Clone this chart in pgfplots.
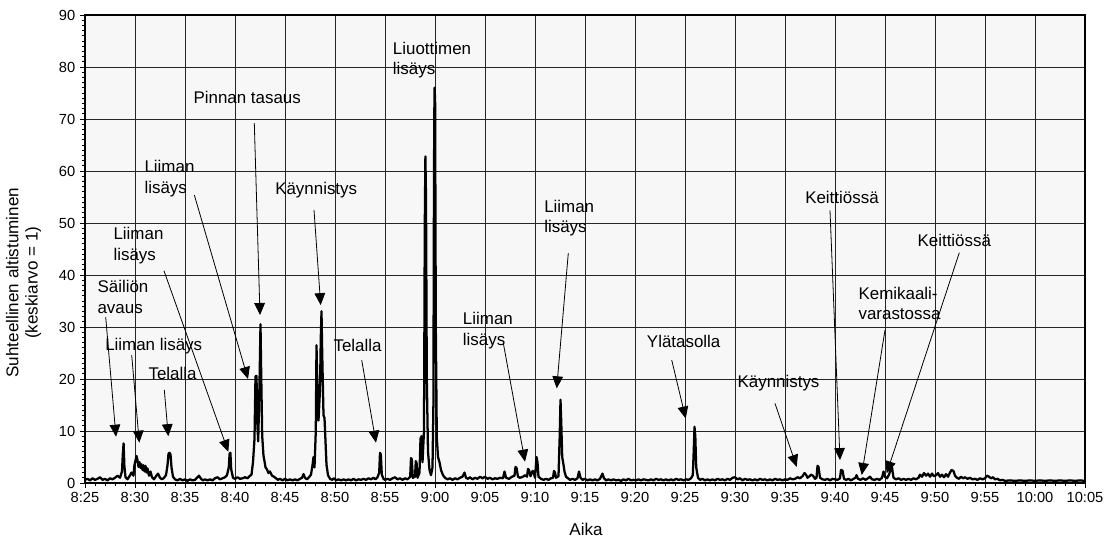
\documentclass[border=0pt]{standalone}
\usepackage{fontspec}
\setmainfont{Liberation Sans}
\usepackage{pgfplots}
\pgfplotsset{compat=1.18}
\usetikzlibrary{arrows.meta}

\newcommand\annfont{\fontsize{12.7}{15.4}\selectfont}
\newcommand\tickfont{\fontsize{11}{13}\selectfont}
\newcommand\labfont{\fontsize{12.8}{14.5}\selectfont}

\begin{document}
\begin{tikzpicture}
  \tikzset{
    ann/.style={font=\annfont, align=left, inner sep=0pt, anchor=west},
    arr/.style={-{Triangle[length=9pt,width=8pt]}, line width=0.6pt, black},
  }
  \begin{axis}[
      scale only axis,
      width=750pt, height=351pt,
      xmin=0, xmax=100, ymin=0, ymax=90,
      clip=false,
      axis background/.style={fill=black!3},
      axis line style={black, line width=0.8pt},
      xtick={0,5,...,100},
      xticklabels={8:25,8:30,8:35,8:40,8:45,8:50,8:55,9:00,9:05,9:10,9:15,9:20,9:25,9:30,9:35,9:40,9:45,9:50,9:55,10:00,10:05},
      minor x tick num=4,
      ytick={0,10,...,90},
      minor y tick num=9,
      tick align=outside, tick pos=left,
      major tick length=3.8pt, minor tick length=2.6pt,
      tick style={black, line width=0.6pt},
      grid=major,
      major grid style={black!85, line width=0.6pt},
      ticklabel style={font=\tickfont},
      /pgf/number format/assume math mode=true,
      xlabel={Aika},
      ylabel={Suhteellinen altistuminen\\(keskiarvo = 1)},
      xlabel style={font=\labfont, at={(axis description cs:0.501,-0.1)}, anchor=center},
      ylabel style={font=\labfont, align=center, at={(axis description cs:-0.0615,0.428)}, anchor=center},
    ]
    % measured series, minutes after 8:25
    \addplot[black, line width=1.7pt, line join=round] coordinates {
      (0,0.6)(0.25,0.8)(0.5,0.5)(0.75,0.9)(1,0.6)(1.25,0.8)(1.5,1.1)(1.75,0.6)(2,0.8)(2.25,0.5)(2.5,0.9)(2.75,0.7)
      (3,1.0)(3.25,1.4)(3.5,1.0)(3.7,2.2)(3.78,5.5)(3.86,7.6)(3.94,3.2)(4.05,1.1)(4.25,0.7)(4.45,1.3)(4.65,2.0)(4.85,1.4)
      (4.95,3.5)(5.05,4.3)(5.15,5.2)(5.25,4.4)(5.35,3.1)(5.45,4.0)(5.55,2.9)(5.65,3.6)(5.75,2.5)(5.85,3.4)(5.95,2.2)(6.05,3.3)
      (6.15,2.0)(6.25,2.8)(6.4,1.4)(6.55,2.2)(6.7,1.1)(6.9,0.7)(7.1,1.3)(7.3,1.8)(7.5,1.0)(7.7,0.7)(7.9,1.0)(8.1,1.5)
      (8.25,3.4)(8.35,5.6)(8.45,5.8)(8.55,5.5)(8.65,3.0)(8.8,1.2)(9,0.7)(9.25,0.5)(9.5,0.8)(9.75,0.5)(10,0.7)(10.25,0.4)
      (10.5,0.7)(10.75,0.5)(11,0.6)(11.2,1.0)(11.4,1.4)(11.6,0.8)(11.8,0.5)(12,0.7)(12.25,0.5)(12.5,0.7)(12.75,0.5)(13,0.9)
      (13.25,1.1)(13.5,0.7)(13.75,0.9)(14,1.1)(14.2,1.5)(14.38,3.0)(14.46,5.6)(14.54,5.8)(14.62,2.6)(14.8,1.0)(15,0.8)
      (15.25,1.1)(15.5,0.8)(15.75,0.9)(16,1.1)(16.25,0.9)(16.45,1.3)(16.65,1.6)(16.8,4.0)(16.95,8.5)(17.05,20.5)(17.15,20.6)
      (17.22,12)(17.32,8)(17.45,19)(17.55,30.5)(17.62,21)(17.72,9)(17.85,5.2)(17.95,4.2)(18.05,3.0)(18.2,2.6)(18.35,1.9)
      (18.5,2.2)(18.7,1.4)(18.9,1.2)(19.1,0.9)(19.3,0.6)(19.5,0.8)(19.75,0.5)(20,0.8)(20.25,0.5)(20.5,0.7)(20.75,0.5)
      (21,0.7)(21.25,0.5)(21.5,0.8)(21.7,1.0)(21.85,1.7)(22,1.0)(22.2,0.7)(22.4,1.1)(22.6,1.6)(22.75,3.4)(22.85,5.0)
      (22.95,3.0)(23.08,10)(23.15,26.5)(23.22,20)(23.35,12)(23.5,18)(23.58,28)(23.65,33)(23.72,25)(23.85,13)(23.95,12.5)
      (24.05,8)(24.15,3.5)(24.3,1.5)(24.5,0.8)(24.7,0.6)(24.9,0.9)(25.1,0.5)(25.35,0.7)(25.6,0.5)(25.85,0.7)(26.1,0.5)
      (26.35,0.7)(26.6,0.5)(26.85,0.8)(27.1,0.5)(27.35,0.7)(27.6,0.6)(27.85,0.8)(28.1,0.6)(28.35,0.9)(28.6,0.7)(28.85,1.0)
      (29.05,0.7)(29.25,1.1)(29.42,2.0)(29.5,5.8)(29.58,5.5)(29.68,1.6)(29.85,0.8)(30,0.6)(30.25,0.8)(30.5,0.6)(30.75,0.9)
      (31,1.1)(31.25,0.7)(31.5,0.9)(31.75,0.6)(32,0.9)(32.25,0.7)(32.52,1.2)(32.6,4.8)(32.68,4.5)(32.78,1.0)(33.0,1.2)
      (33.08,4.2)(33.16,3.8)(33.26,1.0)(33.45,2.0)(33.55,8.5)(33.65,9)(33.75,4.0)(33.9,10)(33.98,50)(34.04,62.8)(34.1,55)
      (34.18,20)(34.3,6)(34.45,2.5)(34.6,1.5)(34.75,3.0)(34.84,15)(34.9,60)(34.95,76)(35.01,74)(35.08,30)(35.18,8.7)
      (35.3,5)(35.45,4.0)(35.6,2.5)(35.8,1.5)(36,1.0)(36.25,0.7)(36.5,0.9)(36.75,0.6)(37,0.9)(37.25,0.7)(37.5,1.0)
      (37.75,1.2)(37.95,2.0)(38.1,1.0)(38.3,0.8)(38.5,1.1)(38.75,0.7)(39,1.0)(39.25,0.8)(39.5,1.2)(39.75,0.9)(40,1.2)
      (40.25,0.8)(40.5,1.0)(40.75,0.7)(41,0.9)(41.25,0.8)(41.5,1.0)(41.8,0.9)(41.95,2.2)(42.1,1.0)(42.4,0.8)(42.7,1.2)
      (42.95,1.4)(43.05,3.1)(43.15,2.9)(43.3,1.2)(43.5,1.0)(43.8,1.2)(44.0,1.5)(44.2,1.2)(44.3,2.7)(44.4,2.5)(44.55,1.3)
      (44.75,2.3)(44.85,2.2)(45.0,1.0)(45.15,5.0)(45.25,4.0)(45.35,1.2)(45.6,0.8)(45.85,0.6)(46.1,0.8)(46.35,0.6)(46.6,0.9)
      (46.8,1.0)(46.9,2.3)(47.0,2.0)(47.1,1.0)(47.35,1.3)(47.47,9)(47.55,16)(47.62,12)(47.72,5)(47.85,3.5)(47.95,2.2)
      (48.1,1.2)(48.3,0.9)(48.5,0.6)(48.75,0.8)(49,0.6)(49.25,0.9)(49.4,2.2)(49.55,1.0)(49.75,0.6)(50,0.8)(50.25,0.5)
      (50.5,0.7)(50.75,0.5)(51,0.7)(51.25,0.5)(51.5,0.8)(51.75,1.8)(51.9,0.9)(52.1,0.5)(52.35,0.7)(52.6,0.5)(52.85,0.7)
      (53.1,0.5)(53.35,0.6)(53.6,0.4)(53.85,0.7)(54.1,0.5)(54.35,0.8)(54.6,0.5)(54.85,0.6)(55.1,0.5)(55.35,0.7)(55.6,0.5)
      (55.85,0.7)(56.1,0.6)(56.35,0.5)(56.6,0.7)(56.85,0.5)(57.1,0.8)(57.35,0.6)(57.6,0.7)(57.85,0.5)(58.1,0.7)(58.35,0.5)
      (58.6,0.7)(58.85,0.5)(59.1,0.8)(59.35,0.6)(59.6,0.7)(59.85,0.5)(60.1,0.7)(60.35,0.6)(60.6,0.9)(60.78,1.5)(60.87,6)
      (60.95,10.8)(61.03,9)(61.12,3)(61.3,1.0)(61.5,0.6)(61.75,0.8)(62,0.5)(62.25,0.7)(62.5,0.5)(62.75,0.7)(63,0.5)
      (63.25,0.8)(63.5,0.6)(63.75,0.7)(64,0.5)(64.25,0.8)(64.5,0.6)(64.75,1.0)(65,1.1)(65.25,0.7)(65.5,0.9)(65.75,0.5)
      (66,0.8)(66.25,0.6)(66.5,0.7)(66.75,0.5)(67,0.7)(67.25,0.5)(67.5,0.8)(67.75,0.6)(68,0.7)(68.25,0.5)(68.5,0.7)
      (68.75,0.5)(69,0.8)(69.25,0.6)(69.5,0.7)(69.75,0.5)(70,0.7)(70.25,0.6)(70.5,0.9)(70.75,0.7)(71,0.8)(71.25,1.1)
      (71.5,0.9)(71.75,1.3)(71.95,1.9)(72.1,1.6)(72.25,1.0)(72.45,1.3)(72.6,1.6)(72.8,1.4)(73.0,0.8)(73.15,1.0)(73.25,3.3)
      (73.35,3.1)(73.5,1.0)(73.75,0.7)(74,0.6)(74.25,0.8)(74.5,0.5)(74.75,0.8)(75,0.7)(75.25,0.6)(75.5,0.9)(75.6,2.5)
      (75.75,2.4)(75.9,0.8)(76.1,0.6)(76.35,0.8)(76.6,0.5)(76.85,0.8)(77.05,1.0)(77.15,1.5)(77.3,0.8)(77.55,0.6)(77.8,0.9)
      (78.05,0.6)(78.3,0.9)(78.5,1.2)(78.7,0.7)(78.95,0.6)(79.2,0.8)(79.45,0.6)(79.7,1.0)(79.85,2.2)(80.0,1.2)(80.2,0.9)
      (80.4,1.6)(80.55,2.5)(80.7,3.0)(80.85,1.0)(81.1,0.7)(81.35,0.9)(81.6,0.6)(81.85,0.8)(82.1,0.6)(82.35,0.8)(82.6,0.6)
      (82.85,0.9)(83.1,0.7)(83.35,1.0)(83.5,1.6)(83.7,1.2)(83.9,1.9)(84.1,1.4)(84.3,1.8)(84.5,1.2)(84.7,1.8)(84.9,1.3)
      (85.1,1.5)(85.3,1.9)(85.5,1.2)(85.7,1.6)(85.9,1.1)(86.1,1.7)(86.3,1.2)(86.5,2.0)(86.65,2.5)(86.85,2.3)(87.0,1.4)
      (87.2,1.0)(87.4,0.8)(87.6,1.2)(87.8,0.9)(88.0,1.1)(88.25,0.8)(88.5,1.0)(88.75,0.7)(89.0,0.8)(89.25,0.6)(89.5,0.9)
      (89.75,0.7)(90.0,0.9)(90.2,1.4)(90.4,1.2)(90.6,0.9)(90.8,1.1)(91.0,0.7)(91.25,0.8)(91.5,0.5)(91.75,0.6)(92,0.4)
      (92.5,0.5)(93,0.4)(93.5,0.5)(94,0.4)(94.5,0.5)(95,0.4)(95.5,0.5)(96,0.4)(96.5,0.5)(97,0.4)(97.5,0.5)(98,0.4)
      (98.5,0.5)(99,0.4)(99.5,0.5)(100,0.4)
    };

    % annotations
    \node[ann] at (axis cs:1.23,35.8) {Säiliön\\avaus};
    \draw[arr] (axis cs:2.07,31.9) -- (axis cs:3.1,8.9);
    \node[ann] at (axis cs:2.0,26.3) {Liiman lisäys};
    \draw[arr] (axis cs:4.67,24.6) -- (axis cs:5.43,7.75);
    \node[ann] at (axis cs:6.33,21.0) {Telalla};
    \draw[arr] (axis cs:7.93,17.9) -- (axis cs:8.33,9.0);
    \node[ann] at (axis cs:2.83,45.6) {Liiman\\lisäys};
    \draw[arr] (axis cs:7.9,40.8) -- (axis cs:14.33,6.0);
    \node[ann] at (axis cs:5.93,58.5) {Liiman\\lisäys};
    \draw[arr] (axis cs:10.93,55.4) -- (axis cs:16.3,20.0);
    \node[ann] at (axis cs:10.83,74.2) {Pinnan tasaus};
    \draw[arr] (axis cs:16.93,69.2) -- (axis cs:17.5,32.3);
    \node[ann] at (axis cs:19.0,56.3) {Käynnistys};
    \draw[arr] (axis cs:22.9,52.5) -- (axis cs:23.57,34.2);
    \node[ann] at (axis cs:24.83,26.5) {Telalla};
    \draw[arr] (axis cs:27.67,23.65) -- (axis cs:29.1,7.75);
    \node[ann] at (axis cs:30.77,81.3) {Liuottimen\\lisäys};
    \node[ann] at (axis cs:37.77,29.3) {Liiman\\lisäys};
    \draw[arr] (axis cs:41.83,26.9) -- (axis cs:44.0,4.1);
    \node[ann] at (axis cs:45.9,50.9) {Liiman\\lisäys};
    \draw[arr] (axis cs:48.33,44.2) -- (axis cs:47.17,18.2);
    \node[ann] at (axis cs:56.17,27.2) {Ylätasolla};
    \draw[arr] (axis cs:58.67,23.65) -- (axis cs:60.07,12.4);
    \node[ann] at (axis cs:65.23,19.2) {Käynnistys};
    \draw[arr] (axis cs:69.0,15.3) -- (axis cs:71.17,3.1);
    \node[ann] at (axis cs:72.0,54.9) {Keittiössä};
    \draw[arr] (axis cs:74.5,52.4) -- (axis cs:75.5,4.4);
    \node[ann] at (axis cs:77.33,34.5) {Kemikaali-\\varastossa};
    \draw[arr] (axis cs:80.0,29.4) -- (axis cs:77.67,1.54);
    \node[ann] at (axis cs:83.23,46.7) {Keittiössä};
    \draw[arr] (axis cs:87.43,44.3) -- (axis cs:80.17,1.87);

    % page extent of the reference
    \path (axis cs:-8.5,-10.96) rectangle (axis cs:102.5,92.88);
  \end{axis}
\end{tikzpicture}
\end{document}
